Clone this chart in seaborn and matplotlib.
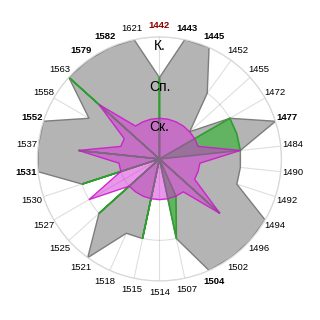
import numpy as np
import matplotlib
matplotlib.use("Agg")
import matplotlib.pyplot as plt
import seaborn as sns

# ---- data ----
years = ["1442", "1443", "1445", "1452", "1455", "1472", "1477", "1484", "1490", "1492",
         "1494", "1496", "1502", "1504", "1507", "1514", "1515", "1518", "1521", "1525",
         "1527", "1530", "1531", "1537", "1552", "1558", "1563", "1579", "1582", "1621"]
gray_vals = [2, 3, 3, 2, 1, 2, 3, 2, 2, 2, 3, 3, 3, 3, 2, 0, 2, 2, 3, 2,
             0, 2, 3, 3, 3, 2, 3, 3, 3, 3]
green_vals = [2, 0, 0, 0, 0, 2, 2, 2, 0, 0, 0, 2, 0, 1, 2, 0, 2, 0, 0, 2,
              0, 2, 0, 2, 0, 0, 3, 0, 0, 0]
magenta_vals = [1, 1, 1, 1, 1, 1, 1, 2, 1, 1, 1, 2, 1, 1, 1, 1, 1, 1, 1, 1,
                2, 1, 1, 2, 1, 1, 2, 1, 1, 1]
level_labels = ["Ск.", "Сп.", "К."]
bold_years = ["1443", "1445", "1477", "1504", "1531", "1552", "1579", "1582"]
red_years = ["1442"]

sns.set_theme(style="white")
plt.rcParams["font.family"] = ["Liberation Sans", "DejaVu Sans"]

n = len(years)
theta = np.deg2rad(np.arange(n) * 360.0 / n)
theta_c = np.append(theta, theta[0])

def closed(v):
    return np.append(np.asarray(v, float), v[0])

fig = plt.figure(figsize=(3.2, 3.2), dpi=100)
ax = fig.add_axes([0.117, 0.122, 0.7625, 0.7625], projection="polar")
ax.set_theta_zero_location("N")
ax.set_theta_direction(-1)
ax.set_ylim(0, 3)

ax.fill(theta_c, closed(gray_vals), facecolor="#b4b4b4", edgecolor="#7d7d7d",
        linewidth=1.0, zorder=1.0)
ax.fill(theta_c, closed(green_vals), facecolor="#62b462", edgecolor="#2f9e2f",
        linewidth=1.2, zorder=1.1)
ax.fill(theta_c, closed(magenta_vals), facecolor=(0.84, 0.18, 0.84, 0.5),
        edgecolor=(0.80, 0.10, 0.80, 0.9), linewidth=1.0, zorder=1.2)

ax.set_xticks(theta)
ax.set_xticklabels([])
ax.set_yticks([1, 2, 3])
ax.set_yticklabels([])
ax.grid(True, color="black", alpha=0.13, linewidth=0.8)
ax.spines["polar"].set_color("#d8d8d8")
ax.spines["polar"].set_linewidth(0.9)

for t, y in zip(theta, years):
    if y in red_years:
        kw = dict(color="#8b0000", fontweight="bold")
    elif y in bold_years:
        kw = dict(color="black", fontweight="bold")
    else:
        kw = dict(color="black")
    ax.text(t, 3.29, y, ha="center", va="center", fontsize=6.8, **kw)

for lvl, lab in zip([1, 2, 3], level_labels):
    ax.text(0, lvl - 0.22, lab, ha="center", va="center", fontsize=10,
            color="black", zorder=5)

fig.savefig("out.png", dpi=100, facecolor="white")
